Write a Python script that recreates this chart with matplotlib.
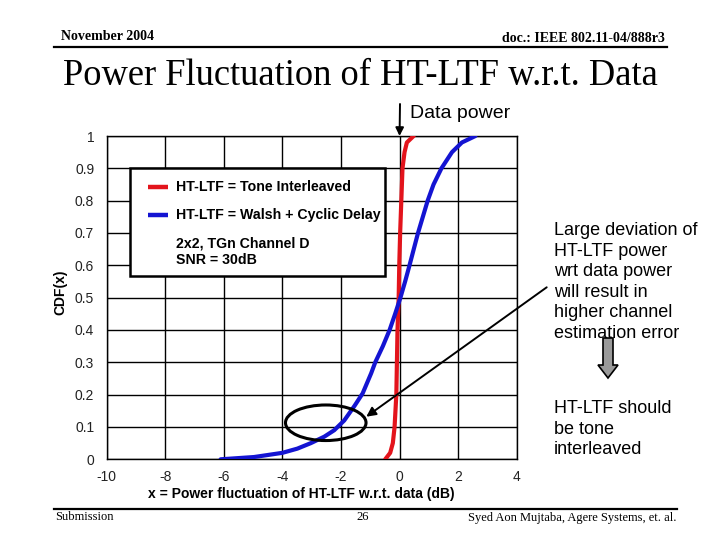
import matplotlib
matplotlib.use('Agg')
import matplotlib.pyplot as plt
from matplotlib.patches import Rectangle, Ellipse, Polygon
from matplotlib.lines import Line2D

# ---------------- data ----------------
red_x = [-0.49, -0.32, -0.23, -0.17, -0.11, -0.09, -0.07, -0.03, -0.01, 0.02, 0.06, 0.10, 0.17, 0.25, 0.48]
red_y = [0.00, 0.02, 0.05, 0.10, 0.20, 0.30, 0.40, 0.50, 0.60, 0.70, 0.80, 0.90, 0.95, 0.98, 1.00]

blue_x = [-6.11, -4.97, -4.00, -3.49, -3.03, -2.57, -2.23, -1.89, -1.54, -1.26, -0.97, -0.83,
          -0.57, -0.34, -0.15, 0.03, 0.19, 0.34, 0.63, 0.96, 1.16, 1.43, 1.79, 2.13, 2.59]
blue_y = [0.000, 0.007, 0.020, 0.033, 0.050, 0.070, 0.090, 0.120, 0.165, 0.204, 0.266, 0.300,
          0.350, 0.400, 0.450, 0.500, 0.550, 0.600, 0.700, 0.800, 0.850, 0.900, 0.950, 0.980, 1.000]

x_ticks = [-10, -8, -6, -4, -2, 0, 2, 4]
x_tick_labels = ['-10', '-8', '-6', '-4', '-2', '0', '2', '4']
y_ticks = [0, 0.1, 0.2, 0.3, 0.4, 0.5, 0.6, 0.7, 0.8, 0.9, 1.0]
y_tick_labels = ['0', '0.1', '0.2', '0.3', '0.4', '0.5', '0.6', '0.7', '0.8', '0.9', '1']

series_labels = ['HT-LTF = Tone Interleaved', 'HT-LTF = Walsh + Cyclic Delay']
note_lines = ['2x2, TGn Channel D', 'SNR = 30dB']
x_label = 'x = Power fluctuation of HT-LTF w.r.t. data (dB)'
y_label = 'CDF(x)'

title = 'Power Fluctuation of HT-LTF w.r.t. Data'
header_left = 'November 2004'
header_right = 'doc.: IEEE 802.11-04/888r3'
footer_left = 'Submission'
footer_mid = '26'
footer_right = 'Syed Aon Mujtaba, Agere Systems, et. al.'
marker_text = 'Data power'
comment_lines = ['Large deviation of', 'HT-LTF power', 'wrt data power',
                 'will result in', 'higher channel', 'estimation error']
conclusion_lines = ['HT-LTF should', 'be tone', 'interleaved']

RED = '#e3141c'
BLUE = '#1414d2'
SANS = ['Liberation Sans', 'DejaVu Sans']
SERIF = ['Liberation Serif', 'DejaVu Serif']

W, H = 720, 540
fig = plt.figure(figsize=(7.2, 5.4), dpi=100)
fig.patch.set_facecolor('white')


def fx(p):
    return p / W


def fy(p):
    return 1 - p / H


# ---------------- slide frame ----------------
fig.text(fx(61), fy(37), header_left, family=SERIF, fontsize=10, fontweight='bold',
         ha='left', va='center')
fig.text(fx(665), fy(39), header_right, family=SERIF, fontsize=10, fontweight='bold',
         ha='right', va='center')
fig.add_artist(Line2D([fx(54), fx(667)], [fy(47.3), fy(47.3)], color='black', lw=1.6))
fig.text(fx(360), fy(76), title, family=SERIF, fontsize=26.3, ha='center', va='center')

fig.add_artist(Line2D([fx(54), fx(677)], [fy(509), fy(509)], color='black', lw=1.6))
fig.text(fx(55), fy(517.5), footer_left, family=SERIF, fontsize=9, ha='left', va='center')
fig.text(fx(363), fy(517.5), footer_mid, family=SERIF, fontsize=9, ha='center', va='center')
fig.text(fx(676), fy(517.5), footer_right, family=SERIF, fontsize=9, ha='right', va='center')

# ---------------- chart ----------------
left, right, top, bottom = 106.7, 516.7, 136.0, 459.3
ax = fig.add_axes([fx(left), fy(bottom), (right - left) / W, (bottom - top) / H])
ax.set_xlim(-10, 4)
ax.set_ylim(0, 1)
ax.set_xticks(x_ticks)
ax.set_xticklabels(x_tick_labels)
ax.set_yticks(y_ticks)
ax.set_yticklabels(y_tick_labels)
ax.grid(True, color='black', lw=1.0, zorder=1)
ax.set_axisbelow(True)
ax.tick_params(length=0, labelsize=10, colors='#222222')
ax.tick_params(axis='y', pad=9)
ax.tick_params(axis='x', pad=8)
for lab in ax.get_xticklabels() + ax.get_yticklabels():
    lab.set_family(SANS)
for s in ax.spines.values():
    s.set_color('black')
    s.set_linewidth(1.0)

ax.plot(red_x, red_y, color=RED, lw=3.0, zorder=4, solid_capstyle='round')
ax.plot(blue_x, blue_y, color=BLUE, lw=3.0, zorder=4, solid_capstyle='round')

fig.text(fx(301), fy(494), x_label, family=SANS, fontsize=10, fontweight='bold',
         ha='center', va='center')
fig.text(fx(60), fy(292), y_label, family=SANS, fontsize=10, fontweight='bold',
         ha='center', va='center', rotation=90)

# legend-like box (drawn manually)
dx = lambda p: (p - 400.0) / 29.3
dy = lambda p: (bottom - p) / (bottom - top)
ax.add_patch(Rectangle((dx(130), dy(276)), dx(385) - dx(130), dy(168) - dy(276),
                       facecolor='white', edgecolor='black', lw=1.8, zorder=3))
for lab, col, py in zip(series_labels, [RED, BLUE], [187, 215]):
    ax.plot([dx(148), dx(168)], [dy(py), dy(py)], color=col, lw=3.2, zorder=5,
            solid_capstyle='butt')
    ax.text(dx(176), dy(py), lab, family=SANS, fontsize=10.2, fontweight='bold',
            ha='left', va='center', zorder=5)
ax.text(dx(176), dy(251.5), '\n'.join(note_lines), family=SANS, fontsize=10.2,
        fontweight='bold', ha='left', va='center', zorder=5, linespacing=1.25)

# ellipse highlighting the tail
ax.add_patch(Ellipse((-2.52, 0.113), 2.75, 0.11, fill=False, ec='black', lw=2.2, zorder=6))

# arrow from comment to ellipse
ax.annotate('', xy=(dx(366.7), dy(416.7)), xycoords='data',
            xytext=(fx(546.7), fy(287.3)), textcoords='figure fraction',
            arrowprops=dict(arrowstyle='-|>', color='black', lw=1.4, mutation_scale=14,
                            shrinkA=0, shrinkB=0),
            annotation_clip=False, zorder=7)

# data power marker
ax.annotate('', xy=(0, 1.0), xycoords='data',
            xytext=(fx(400), fy(104)), textcoords='figure fraction',
            arrowprops=dict(arrowstyle='-|>', color='black', lw=1.4, mutation_scale=12,
                            shrinkA=0, shrinkB=0),
            annotation_clip=False, zorder=7)
fig.text(fx(410), fy(114), marker_text, family=SANS, fontsize=14, ha='left', va='center')

# comment texts
fig.text(fx(554), fy(282), '\n'.join(comment_lines), family=SANS, fontsize=13,
         ha='left', va='center', linespacing=1.27)
fig.text(fx(554), fy(429), '\n'.join(conclusion_lines), family=SANS, fontsize=13,
         ha='left', va='center', linespacing=1.24)

# grey block arrow
pts = [(603, 338), (613, 338), (613, 365), (618, 365), (608, 378), (598, 365), (603, 365)]
fig.add_artist(Polygon([(fx(a), fy(b)) for a, b in pts], closed=True,
                       facecolor='#9a9a9a', edgecolor='black', lw=1.2))

fig.savefig('out.png', dpi=100)
